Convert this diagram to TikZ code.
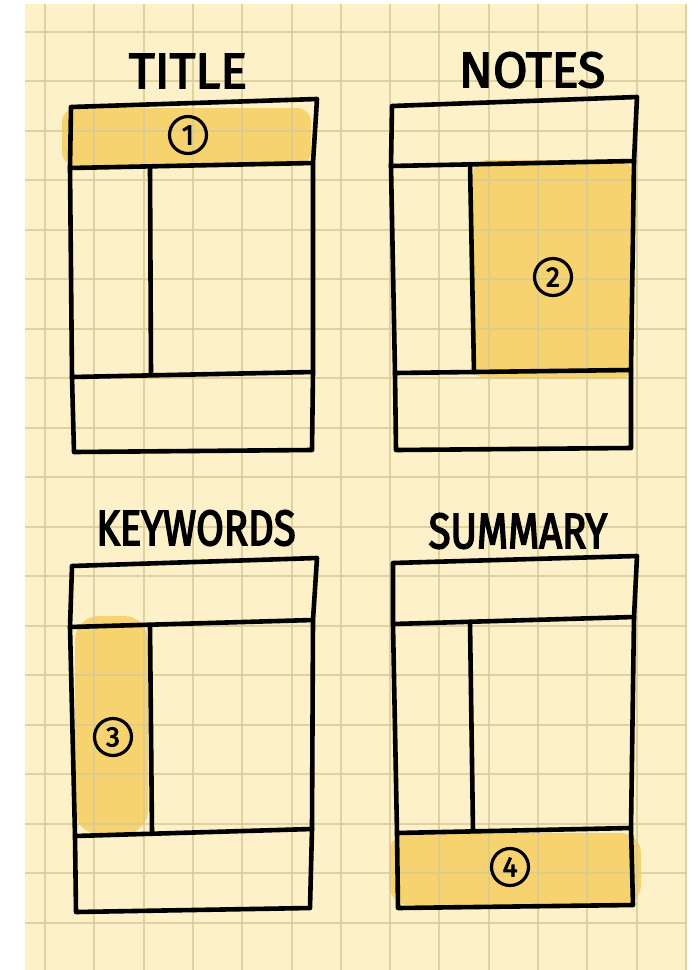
\documentclass[tikz,border=0pt]{standalone}
\usepackage{fontspec}
\newfontfamily\handfont{Fira Sans}[FakeStretch=0.80, FakeBold=3]
\newfontfamily\handwide{Fira Sans}[FakeStretch=1.0, FakeBold=3]
\definecolor{paper}{HTML}{FCF1C8}
\definecolor{gridtan}{HTML}{D9CA96}
\definecolor{marker}{HTML}{F6D36E}
\usepackage{tikz}

\begin{document}
\begin{tikzpicture}[x=1pt, y=-1pt,
  ink/.style={line width=4.6pt, line cap=round, line join=round},
  gridline/.style={draw=gridtan, line width=2pt, opacity=0.8},
  hl/.style={fill=marker, rounded corners=14pt},
  ttl/.style={inner sep=0pt, font=\handfont\fontsize{50}{54}\selectfont},
  num/.style={circle, draw, line width=3.2pt, minimum size=37pt, inner sep=0pt,
              font=\handwide\fontsize{28}{30}\selectfont},
]
  % paper
  \fill[white] (0,0) rectangle (698,970);
  \fill[paper] (25,4) rectangle (687,970);
  \useasboundingbox (0,0) rectangle (698,970);

  % marker highlights
  \fill[hl] (62,108) rectangle (311,166);
  \fill[hl] (473,160) rectangle (633,379);
  \fill[hl, rounded corners=24pt] (75,616) rectangle (148,834);
  \fill[hl, rounded corners=20pt] (389,833) rectangle (641,905);

  % grid
  \foreach \gx in {0,...,13}
    \draw[gridline] ({45+49.3*\gx},4) -- ({45+49.3*\gx},970);
  \foreach \gy in {0,...,19}
    \draw[gridline] (25,{31.7+49.5*\gy}) -- (687,{31.7+49.5*\gy});

  % title page
  \draw[ink] (71,107) -- (317,99) -- (313,163) -- (313,372) -- (312,450) -- (74,452) -- (72,377) -- (70,168) -- cycle;
  \draw[ink] (70,168) -- (313,163);
  \draw[ink] (72,377) -- (313,372);
  \draw[ink] (150,167) -- (151,375);

  % notes page
  \draw[ink] (392,106) -- (637,97) -- (634,161) -- (631,370) -- (631,448) -- (396,450) -- (395,373) -- (391,166) -- cycle;
  \draw[ink] (391,166) -- (634,161);
  \draw[ink] (395,373) -- (631,370);
  \draw[ink] (470,164) -- (474,372);

  % keywords page
  \draw[ink] (72,566) -- (317,558) -- (313,620) -- (312,829) -- (310,908) -- (76,912) -- (75,836) -- (70,627) -- cycle;
  \draw[ink] (70,627) -- (313,620);
  \draw[ink] (75,836) -- (312,829);
  \draw[ink] (150,625) -- (152,833);

  % summary page
  \draw[ink] (393,563) -- (637,556) -- (634,617) -- (631,828) -- (633,905) -- (398,908) -- (397,833) -- (393,624) -- cycle;
  \draw[ink] (393,624) -- (634,617);
  \draw[ink] (397,833) -- (631,828);
  \draw[ink] (470,622) -- (473,831);

  % headings
  \node[ttl, font=\handwide\fontsize{50}{54}\selectfont] (tTitle) at (188,71) {TITLE};
  \node[ttl, font=\handwide\fontsize{50}{54}\selectfont] (tNotes) at (532,70) {NOTES};
  \node[ttl] (tKeys) at (196,528) {KEYWORDS};
  \node[ttl] (tSumm) at (518,531) {SUMMARY};

  % step numbers
  \node[num] (n1) at (188,135) {1};
  \node[num] (n2) at (553,277) {2};
  \node[num] (n3) at (113,737) {3};
  \node[num] (n4) at (510,867) {4};
\end{tikzpicture}
\end{document}
